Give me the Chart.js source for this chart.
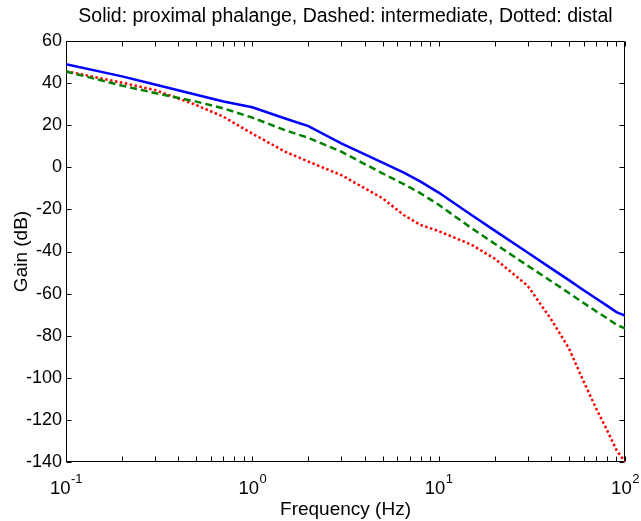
<!DOCTYPE html>
<html>
<head>
<meta charset="utf-8">
<script src="https://cdn.jsdelivr.net/npm/chart.js@4.4.1/dist/chart.umd.min.js"></script>
<style>
  html, body { margin: 0; padding: 0; background: #ffffff; }
  #wrap { width: 641px; height: 521px; }
</style>
</head>
<body>
<div id="wrap"><canvas id="c" width="641" height="521"></canvas></div>
<script>
// ---- data ----
const titleText = 'Solid: proximal phalange, Dashed: intermediate, Dotted: distal';
const xLabel = 'Frequency (Hz)';
const yLabel = 'Gain (dB)';

const freq = [0.1, 0.2, 0.3, 0.5, 0.7, 1, 1.5, 2, 3, 5, 6.5, 8, 10, 15, 20, 30, 40, 50, 60, 70, 80, 90, 100];
const proximal = [49, 43.2, 39.3, 34.5, 31.3, 28.5, 23.2, 19.6, 11.4, 2.2, -2.5, -6.8, -12, -22.7, -30.1, -40.5, -47.9, -53.6, -58.4, -62.3, -65.7, -68.8, -70.5];
const intermediate = [45.5, 38.8, 35.3, 31.2, 28, 23.6, 17.6, 14, 7.4, -2.9, -8, -12.4, -17.8, -28.9, -36.3, -46.7, -54, -59.7, -64.5, -68.4, -71.7, -74.8, -76.5];
const distal = [45.7, 40.2, 36.7, 29.6, 24, 16, 7.4, 2.7, -3.7, -14.7, -22.7, -27.4, -30.3, -36.8, -43.4, -56.2, -72, -86, -101.8, -114.5, -124.8, -134.3, -140];

const xDecades = [0.1, 1, 10, 100];
const xExponents = ['-1', '0', '1', '2'];
const yMin = -140, yMax = 60, yStep = 20;

const FONT = '"Liberation Sans", Arial, Helvetica, sans-serif';

function pts(ys) { return freq.map((f, i) => ({ x: f, y: ys[i] })); }

const framePlugin = {
  id: 'frame',
  beforeDatasetsDraw(chart) {
    const { ctx, chartArea: a, scales } = chart;
    const L = Math.round(a.left) + 0.5, R = Math.round(a.right) - 0.5;
    const T = Math.round(a.top) + 0.5, B = Math.round(a.bottom) - 0.5;
    ctx.save();
    ctx.strokeStyle = '#000';
    ctx.lineWidth = 1;
    ctx.beginPath();
    ctx.rect(L, T, R - L, B - T);
    for (let v = yMin; v <= yMax; v += yStep) {
      const y = Math.round(scales.y.getPixelForValue(v)) + 0.5;
      ctx.moveTo(L, y); ctx.lineTo(L + 5, y);
      ctx.moveTo(R, y); ctx.lineTo(R - 5, y);
    }
    for (let d = 0; d < xDecades.length; d++) {
      const base = xDecades[d];
      const lim = d === xDecades.length - 1 ? 1 : 9;
      for (let m = 1; m <= lim; m++) {
        const x = Math.round(scales.x.getPixelForValue(base * m)) + 0.5;
        ctx.moveTo(x, B); ctx.lineTo(x, B - 5);
        ctx.moveTo(x, T); ctx.lineTo(x, T + 5);
      }
    }
    ctx.stroke();
    ctx.restore();
  },
  afterDraw(chart) {
    const { ctx, chartArea: a, scales } = chart;
    ctx.save();
    ctx.fillStyle = '#000';
    ctx.font = '19.5px ' + FONT;
    ctx.textAlign = 'center';
    ctx.textBaseline = 'middle';
    ctx.fillText(titleText, (a.left + a.right) / 2, 17);
    ctx.textBaseline = 'alphabetic';
    ctx.textAlign = 'left';
    for (let i = 0; i < xDecades.length; i++) {
      const x = scales.x.getPixelForValue(xDecades[i]);
      ctx.font = '18.5px ' + FONT;
      const w1 = ctx.measureText('10').width;
      ctx.font = '13px ' + FONT;
      const w2 = ctx.measureText(xExponents[i]).width;
      const x0 = x - (w1 + w2) / 2;
      ctx.font = '18.5px ' + FONT;
      ctx.fillText('10', x0, 494);
      ctx.font = '13px ' + FONT;
      ctx.fillText(xExponents[i], x0 + w1 + 0.5, 483);
    }
    ctx.restore();
  }
};

new Chart(document.getElementById('c'), {
  type: 'line',
  data: {
    datasets: [
      { label: 'proximal', data: pts(proximal), borderColor: '#0000ff', borderWidth: 2.5, pointRadius: 0, tension: 0, fill: false },
      { label: 'intermediate', data: pts(intermediate), borderColor: '#008000', borderWidth: 2.5, borderDash: [7, 4], pointRadius: 0, tension: 0, fill: false },
      { label: 'distal', data: pts(distal), borderColor: '#ff0000', borderWidth: 2.5, borderDash: [2.5, 2.5], pointRadius: 0, tension: 0, fill: false }
    ]
  },
  options: {
    responsive: false,
    animation: false,
    devicePixelRatio: 1,
    layout: { padding: { top: 41, right: 16, left: 0, bottom: 0 } },
    plugins: { legend: { display: false }, title: { display: false }, tooltip: { enabled: false } },
    scales: {
      x: {
        type: 'logarithmic', min: 0.1, max: 100,
        grid: { display: false, drawTicks: false },
        border: { display: false },
        ticks: { display: false },
        title: { display: true, text: xLabel, color: '#000', font: { family: FONT, size: 19 }, padding: { top: 0, bottom: 0 } },
        afterFit(s) { s.height = 59; }
      },
      y: {
        min: yMin, max: yMax,
        grid: { display: false, drawTicks: false },
        border: { display: false },
        ticks: { stepSize: yStep, color: '#000', padding: 4, font: { family: FONT, size: 18 } },
        title: { display: true, text: yLabel, color: '#000', font: { family: FONT, size: 19 }, padding: { top: 10, bottom: 0 } },
        afterFit(s) { s.width = 66; }
      }
    }
  },
  plugins: [framePlugin]
});
</script>
</body>
</html>
